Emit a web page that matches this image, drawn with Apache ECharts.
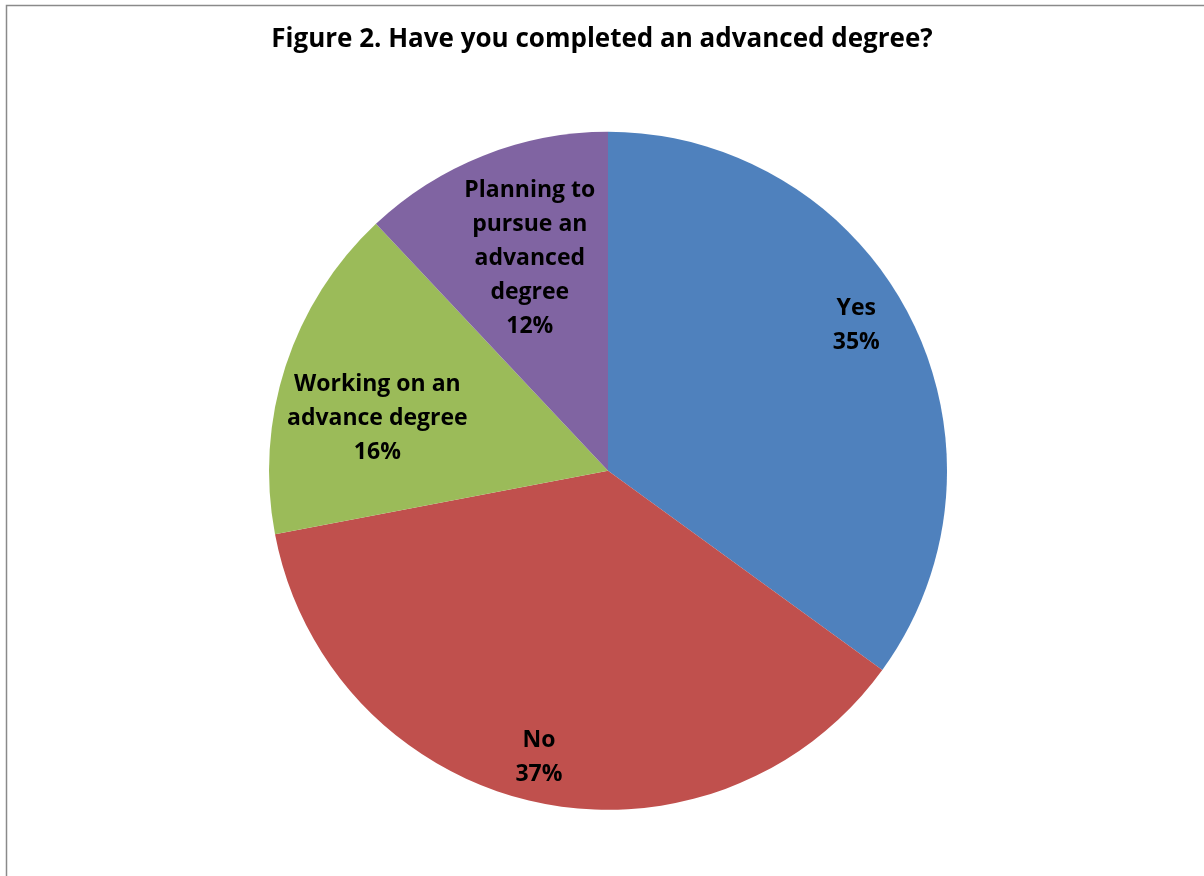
<!DOCTYPE html>
<html>
<head>
<meta charset="utf-8">
<style>
  html, body { margin: 0; padding: 0; background: #fff; }
  #chart { width: 1204px; height: 876px; }
</style>
<script src="https://cdn.jsdelivr.net/npm/echarts@6/dist/echarts.min.js"></script>
</head>
<body>
<div id="chart"></div>
<script>
// Survey responses, in clockwise order from 12 o'clock
const categories = ['Yes', 'No', 'Working on an\nadvance degree', 'Planning to\npursue an\nadvanced\ndegree'];
const shares = [35, 37, 16, 12];
const colors = ['#4F81BD', '#C0504D', '#9BBB59', '#8064A2'];
// how far out from the centre each label sits (fraction of the radius),
// plus a small sideways nudge in pixels
const labelReach = [0.845, 0.867, 0.70, 0.667];
const labelNudge = [[-7, -15], [-5, 0], [-5, 21], [5, -2]];

const W = 1204, H = 876;
const centerPct = ['50.5%', '53.75%'];
const radius = 339;

const chart = echarts.init(document.getElementById('chart'), null, { renderer: 'canvas' });
const cx = parseFloat(centerPct[0]) / 100 * W;
const cy = parseFloat(centerPct[1]) / 100 * H;

chart.setOption({
  backgroundColor: '#ffffff',
  animation: false,
  title: {
    text: 'Figure 2. Have you completed an advanced degree?',
    left: 'center',
    top: 22,
    textStyle: { fontFamily: 'Open Sans', fontWeight: 'bold', fontSize: 26, color: '#000' }
  },
  graphic: [{
    type: 'rect',
    silent: true,
    shape: { x: 6.5, y: 5.5, width: 1400, height: 1000 },
    style: { fill: 'none', stroke: '#8a8a8a', lineWidth: 1.5 }
  }],
  series: [{
    type: 'pie',
    center: centerPct,
    radius: radius,
    startAngle: 90,
    clockwise: true,
    label: {
      show: true,
      position: 'inside',
      formatter: p => p.name + '\n' + p.value + '%',
      fontFamily: 'Open Sans',
      fontWeight: 'bold',
      fontSize: 23,
      lineHeight: 34,
      color: '#000'
    },
    labelLine: { show: false },
    emphasis: { disabled: true },
    itemStyle: { borderWidth: 0 },
    labelLayout: function (params) {
      const r = params.labelRect;
      const lx = r.x + r.width / 2;
      const ly = r.y + r.height / 2;
      const vx = lx - cx, vy = ly - cy;
      const d = Math.sqrt(vx * vx + vy * vy) || 1;
      const target = labelReach[params.dataIndex] * radius;
      const n = labelNudge[params.dataIndex];
      return { dx: vx / d * (target - d) + n[0], dy: vy / d * (target - d) + n[1] };
    },
    data: categories.map((name, i) => ({
      name: name,
      value: shares[i],
      itemStyle: { color: colors[i] }
    }))
  }]
});
</script>
</body>
</html>
